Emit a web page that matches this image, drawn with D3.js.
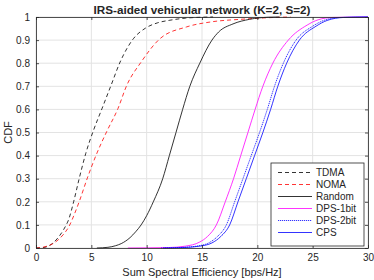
<!DOCTYPE html>
<html>
<head>
<meta charset="utf-8">
<script src="https://cdn.jsdelivr.net/npm/d3@7"></script>
<style>
  body { margin: 0; background: #fff; }
  text { font-family: "Liberation Sans", Arial, sans-serif; fill: #262626; }
</style>
</head>
<body>
<script>
// CDF curves: [x, cdf]
var tdma = [[0,0],[0.5,0.001],[1,0.006],[1.5,0.02],[2,0.045],[2.5,0.08],[3,0.13],[3.4,0.2],[3.9,0.3],
    [4.5,0.41],[5.2,0.51],[5.96,0.603],[6.78,0.704],[7.6,0.805],[8.8,0.906],[9.9,0.952],[11,0.975],
    [12.1,0.986],[13.5,0.995],[15,0.999],[16,1]];
var noma = [[0,0],[0.5,0.002],[1,0.008],[1.5,0.018],[2,0.035],[2.5,0.06],[3,0.095],[3.5,0.15],[3.9,0.2],
    [4.67,0.307],[5.5,0.41],[6.4,0.505],[7.4,0.603],[8.2,0.704],[9.5,0.805],[11.2,0.906],[13.6,0.957],
    [16,0.98],[18.5,0.99],[21,0.997],[23,1]];
var random = [[5.5,0],[6.5,0.003],[7.2,0.01],[7.7,0.019],[8.5,0.045],[9,0.07],[9.5,0.1],[10,0.14],[10.6,0.2],
    [11.45,0.3],[12.05,0.4],[12.65,0.5],[13.25,0.6],[13.9,0.7],[14.8,0.8],[15.9,0.9],[16.5,0.935],
    [17.8,0.97],[19.3,0.99],[21,0.999],[22,1]];
var dps1 = [[8.3,0],[12,0.002],[13.5,0.008],[14.8,0.026],[15.5,0.05],[16.3,0.1],[17.1,0.2],[17.85,0.3],
    [18.5,0.4],[19.15,0.5],[19.8,0.6],[20.5,0.7],[21.4,0.8],[22.8,0.9],[24.5,0.965],[25.5,0.988],
    [26.8,0.998],[30,1]];
var dps2 = [[11.3,0],[13,0.002],[14.5,0.008],[15.6,0.022],[16.4,0.05],[17.2,0.1],[17.95,0.2],[18.7,0.3],
    [19.45,0.4],[20.2,0.5],[20.9,0.6],[21.55,0.7],[22.35,0.8],[23.5,0.9],[25,0.96],[26,0.985],
    [27.5,0.998],[30,1]];
var cps = [[11.5,0],[13.3,0.002],[14.8,0.008],[15.9,0.022],[16.7,0.05],[17.5,0.1],[18.25,0.2],[19,0.3],
    [19.75,0.4],[20.5,0.5],[21.2,0.6],[21.85,0.7],[22.65,0.8],[23.8,0.9],[25.3,0.96],[26.3,0.985],
    [27.8,0.998],[30,1]];

var seriesNames = ["TDMA","NOMA","Random","DPS-1bit","DPS-2bit","CPS"];
var xTicks = [0,5,10,15,20,25,30];
var yTicks = [0,0.1,0.2,0.3,0.4,0.5,0.6,0.7,0.8,0.9,1];

var series = [
    {name: seriesNames[0], data: tdma,   color: "#000000", dash: "4,3"},
    {name: seriesNames[1], data: noma,   color: "#ff0000", dash: "4,3"},
    {name: seriesNames[2], data: random, color: "#000000", dash: null},
    {name: seriesNames[3], data: dps1,   color: "#ff00ff", dash: null},
    {name: seriesNames[4], data: dps2,   color: "#0000ff", dash: "1.2,0.8"},
    {name: seriesNames[5], data: cps,    color: "#0000ff", dash: null}
];

var W = 374, H = 280;
var m = {left: 36, right: 6, top: 17, bottom: 32};

var svg = d3.select("body").append("svg").attr("width", W).attr("height", H);

var x = d3.scaleLinear().domain([0,30]).range([m.left, W - m.right]);
var y = d3.scaleLinear().domain([0,1]).range([H - m.bottom, m.top]);

// grid
var grid = svg.append("g");
grid.selectAll(".gx").data(xTicks).enter().append("line")
    .attr("x1", d => x(d)).attr("x2", d => x(d))
    .attr("y1", y(0)).attr("y2", y(1))
    .attr("stroke", "#e3e3e3").attr("stroke-width", 1);
grid.selectAll(".gy").data(yTicks).enter().append("line")
    .attr("x1", x(0)).attr("x2", x(30))
    .attr("y1", d => y(d)).attr("y2", d => y(d))
    .attr("stroke", "#e3e3e3").attr("stroke-width", 1);

// curves
var line = d3.line().x(d => x(d[0])).y(d => y(d[1])).curve(d3.curveMonotoneX);
var plot = svg.append("g");
series.forEach(function(s) {
    plot.append("path").datum(s.data)
        .attr("d", line)
        .attr("fill", "none")
        .attr("stroke", s.color)
        .attr("stroke-width", 0.8)
        .attr("stroke-dasharray", s.dash);
});

// axes (MATLAB style ticks inside, box)
var axisCol = "#262626";
var xAxisB = d3.axisBottom(x).tickValues(xTicks).tickSizeInner(-3).tickSizeOuter(0).tickPadding(6);
var xAxisT = d3.axisTop(x).tickValues(xTicks).tickSizeInner(-3).tickSizeOuter(0).tickFormat("");
var yAxisL = d3.axisLeft(y).tickValues(yTicks).tickSizeInner(-3).tickSizeOuter(0).tickPadding(6)
    .tickFormat(d => d === 0 || d === 1 ? d3.format("d")(d) : d3.format(".1f")(d));
var yAxisR = d3.axisRight(y).tickValues(yTicks).tickSizeInner(-3).tickSizeOuter(0).tickFormat("");

function styleAxis(g) {
    g.selectAll("path").attr("stroke", axisCol).attr("stroke-width", 0.8);
    g.selectAll("line").attr("stroke", axisCol).attr("stroke-width", 0.8);
    g.selectAll("text").attr("fill", axisCol).style("font-size", "10px")
        .style("font-family", "'Liberation Sans', Arial, sans-serif");
}
svg.append("g").attr("transform", "translate(0," + y(0) + ")").call(xAxisB).call(styleAxis);
svg.append("g").attr("transform", "translate(0," + y(1) + ")").call(xAxisT).call(styleAxis);
svg.append("g").attr("transform", "translate(" + x(0) + ",0)").call(yAxisL).call(styleAxis);
svg.append("g").attr("transform", "translate(" + x(30) + ",0)").call(yAxisR).call(styleAxis);

// title and labels
svg.append("text").attr("x", (x(0) + x(30)) / 2).attr("y", 14)
    .attr("text-anchor", "middle").style("font-size", "11.7px").style("font-weight", "bold")
    .attr("fill", "#000").text("IRS-aided vehicular network (K=2, S=2)");
svg.append("text").attr("x", (x(0) + x(30)) / 2).attr("y", 276)
    .attr("text-anchor", "middle").style("font-size", "11px")
    .text("Sum Spectral Efficiency [bps/Hz]");
svg.append("text").attr("transform", "translate(12," + ((y(0) + y(1)) / 2) + ") rotate(-90)")
    .attr("text-anchor", "middle").style("font-size", "11px").text("CDF");

// legend
var lg = svg.append("g").attr("transform", "translate(271,163)");
lg.append("rect").attr("width", 93).attr("height", 83)
    .attr("fill", "#fff").attr("stroke", axisCol).attr("stroke-width", 0.8);
series.forEach(function(s, i) {
    var yy = 9.5 + i * 12;
    lg.append("line").attr("x1", 7).attr("x2", 41).attr("y1", yy).attr("y2", yy)
        .attr("stroke", s.color).attr("stroke-width", 0.8).attr("stroke-dasharray", s.dash);
    lg.append("text").attr("x", 45).attr("y", yy + 3.5).style("font-size", "10px")
        .attr("fill", "#000").text(s.name);
});
</script>
</body>
</html>
